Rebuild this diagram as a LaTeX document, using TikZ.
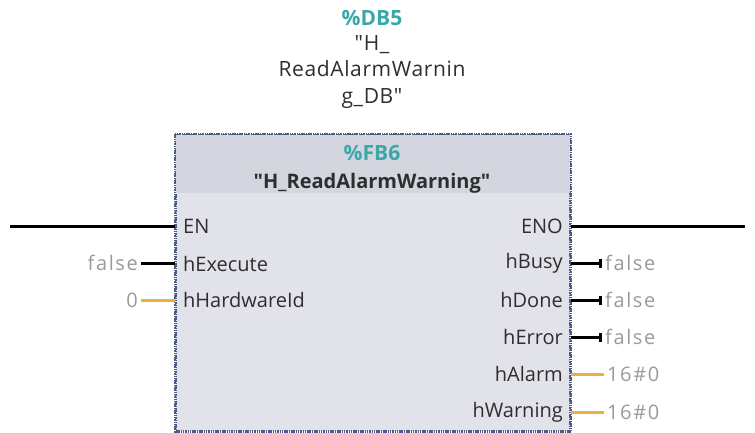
\documentclass[tikz,border=0pt]{standalone}
\usepackage{fontspec}
\newfontfamily\tiafont{Open Sans}
\usetikzlibrary{positioning,arrows.meta}
\definecolor{tiateal}{HTML}{3BA7A9}
\definecolor{tiaorange}{HTML}{E9B23A}
\definecolor{tiabox}{HTML}{E2E3EA}
\definecolor{tiahead}{HTML}{D4D6DF}
\definecolor{tiaframe}{HTML}{4C5B82}
\definecolor{tiapin}{HTML}{2E2E2E}
\definecolor{tiaval}{HTML}{9A9A9A}

\tikzset{
  pinname/.style={inner sep=2pt,text=tiapin,font=\tiafont\fontsize{20}{24}\selectfont},
  pinval/.style={inner sep=3pt,text=tiaval,font=\tiafont\addfontfeature{LetterSpace=8}\fontsize{20}{24}\selectfont},
  wire/.style={line width=3pt,black},
  owire/.style={line width=3pt,tiaorange},
  teallabel/.style={text=tiateal,font=\tiafont\bfseries\fontsize{21}{24}\selectfont},
}

\begin{document}
\begin{tikzpicture}[x=1pt,y=-1pt]
\useasboundingbox (0,0) rectangle (755,432);
% instance data block
\node[teallabel] (db) at (372,18) {\%DB5};
\node[pinname,align=center,font=\tiafont\addfontfeature{LetterSpace=3}\fontsize{21}{26.5}\selectfont] (dbname) at (372,72)
  {"H\_\\ReadAlarmWarnin\\g\_DB"};
% block body
\node[draw=tiaframe,line width=2pt,dash pattern=on 1.5pt off 0.8pt,fill=tiabox,
  minimum width=394,minimum height=296,anchor=north west,inner sep=0] (fb) at (175,134) {};
\fill[tiahead] ([shift={(1pt,-1pt)}]fb.north west) rectangle ([shift={(-1pt,-59pt)}]fb.north east);
\draw[tiaframe,line width=2pt,dash pattern=on 1.5pt off 0.8pt] (fb.north west) rectangle (fb.south east);
\node[teallabel] (fbnum) at (372,153) {\%FB6};
\node[pinname,font=\tiafont\fontseries{sb}\fontsize{20}{24}\selectfont] (fbname) at (372,183) {"H\_ReadAlarmWarning"};
% inputs
\node[pinname,anchor=west] (en) at (181,226) {EN};
\node[pinname,anchor=west] (hexec) at (181,264) {hExecute};
\node[pinname,anchor=west] (hhw) at (181,300) {hHardwareId};
\coordinate (enin) at (10,226);
\draw[wire] (enin) -- (fb.west |- en);
\node[pinval,anchor=east] (vexec) at (141,263) {false};
\draw[wire] (vexec) -- (fb.west |- vexec);
\node[pinval,anchor=east] (vhw) at (141,300) {0};
\draw[owire] (vhw) -- (fb.west |- vhw);
% outputs
\node[pinname,anchor=east] (eno) at (565,226) {ENO};
\node[pinname,anchor=east] (hbusy) at (565,263) {hBusy};
\node[pinname,anchor=east] (hdone) at (565,300) {hDone};
\node[pinname,anchor=east] (herr) at (565,337) {hError};
\node[pinname,anchor=east] (halarm) at (565,374) {hAlarm};
\node[pinname,anchor=east] (hwarn) at (565,412) {hWarning};
\coordinate (enoout) at (745,226);
\draw[wire] (fb.east |- eno) -- (enoout);
\node[pinval,anchor=west] (vbusy) at (602,263) {false};
\node[pinval,anchor=west] (vdone) at (602,300) {false};
\node[pinval,anchor=west] (verr) at (602,337) {false};
\node[pinval,anchor=west] (valarm) at (604,374) {16\#0};
\node[pinval,anchor=west] (vwarn) at (604,412) {16\#0};
\foreach \p/\v in {hbusy/vbusy,hdone/vdone,herr/verr}
  \draw[wire,-{Bar[width=9pt,line width=3pt]}] (fb.east |- \v) -- (\v.west);
\foreach \p/\v in {halarm/valarm,hwarn/vwarn}
  \draw[owire] (fb.east |- \v) -- (\v.west);
\end{tikzpicture}
\end{document}
